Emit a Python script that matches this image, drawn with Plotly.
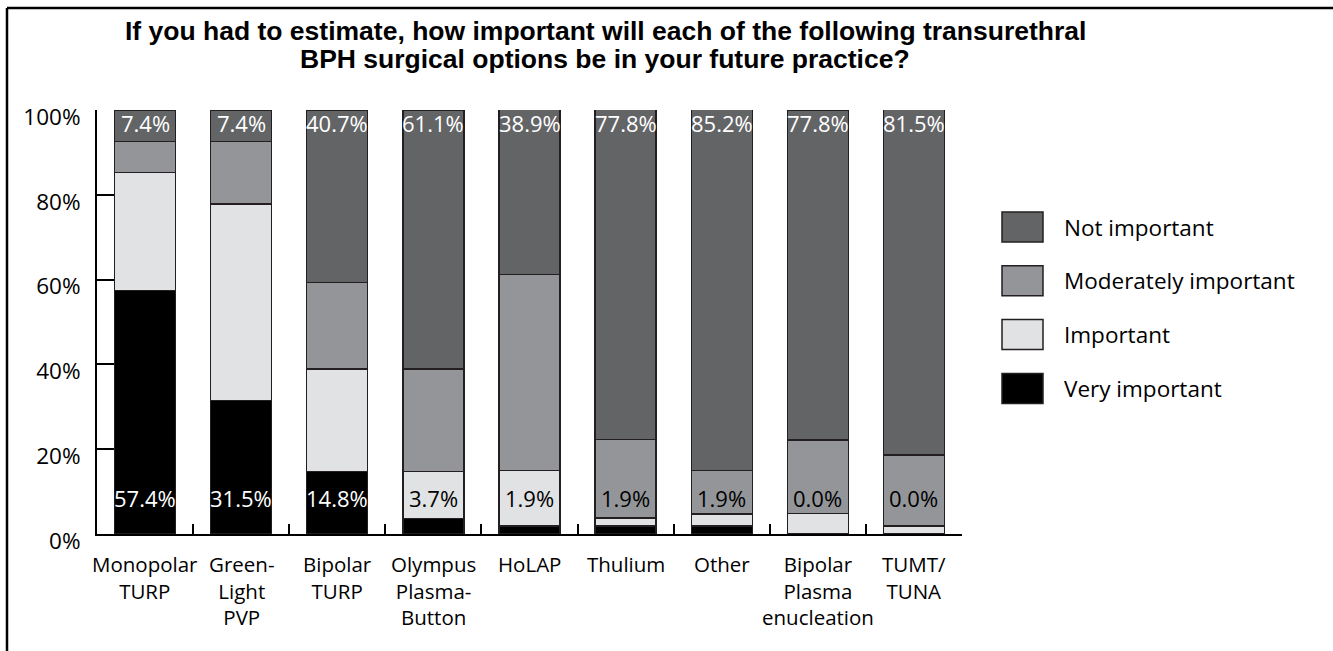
import plotly.graph_objects as go

# Survey answers per transurethral BPH option (percent of respondents)
categories = ["Monopolar TURP", "Green-Light PVP", "Bipolar TURP", "Olympus Plasma-Button",
              "HoLAP", "Thulium", "Other", "Bipolar Plasma enucleation", "TUMT/TUNA"]
tick_lines = [["Monopolar", "TURP"], ["Green-", "Light", "PVP"], ["Bipolar", "TURP"],
              ["Olympus", "Plasma-", "Button"], ["HoLAP"], ["Thulium"], ["Other"],
              ["Bipolar", "Plasma", "enucleation"], ["TUMT/", "TUNA"]]

very_important = [57.4, 31.5, 14.8, 3.7, 1.9, 1.9, 1.9, 0.0, 0.0]
important = [27.8, 46.3, 24.1, 11.1, 13.0, 1.9, 2.8, 4.9, 1.9]
moderately_important = [7.4, 14.8, 20.4, 24.1, 46.3, 18.5, 10.2, 17.3, 16.7]
not_important = [7.4, 7.4, 40.7, 61.1, 38.9, 77.8, 85.2, 77.8, 81.5]

series_names = ["Very important", "Important", "Moderately important", "Not important"]
series_values = [very_important, important, moderately_important, not_important]
series_colors = ["#000000", "#e1e2e4", "#939598", "#636466"]

y_ticks = [0, 20, 40, 60, 80, 100]
y_tick_text = [f"{v}%" for v in y_ticks]

title_lines = ["If you had to estimate, how important will each of the following transurethral",
               "BPH surgical options be in your future practice?"]

BODY_FONT = "Open Sans"
TITLE_FONT = "Liberation Sans"
OUTLINE = "#231f20"

W, H = 1333, 651
L, R, T, B = 97, 371, 110, 117
PW, PH = W - L - R, H - T - B


def px(xp):
    return (xp - L) / PW


def py(yp):
    return (H - B - yp) / PH


fig = go.Figure()
for name, vals, col in zip(series_names, series_values, series_colors):
    fig.add_trace(go.Bar(
        x=categories, y=vals, name=name,
        marker=dict(color=col, line=dict(color=OUTLINE, width=1.3)),
        showlegend=False, hoverinfo="x+y+name",
    ))

annotations = []
# value labels: "Not important" at the top, "Very important" at the bottom
for cat, top_v, bot_v in zip(categories, not_important, very_important):
    annotations.append(dict(x=cat, y=97, xref="x", yref="y", text=f"{top_v:.1f}%",
                            showarrow=False, font=dict(family=BODY_FONT, size=22, color="white")))
    annotations.append(dict(x=cat, y=8.4, xref="x", yref="y", text=f"{bot_v:.1f}%",
                            showarrow=False,
                            font=dict(family=BODY_FONT, size=22,
                                      color="white" if bot_v >= 10 else "black")))

# category labels under each bar
for cat, lines in zip(categories, tick_lines):
    annotations.append(dict(x=cat, y=0, xref="x", yref="paper", text="<br>".join(lines),
                            showarrow=False, yanchor="top", yshift=-14,
                            font=dict(family=BODY_FONT, size=20.5, color="black")))

# title
for i, line in enumerate(title_lines):
    annotations.append(dict(x=px(605), y=py(31 + 28 * i), xref="paper", yref="paper",
                            text=f"<b>{line}</b>", showarrow=False,
                            xanchor="center", yanchor="middle",
                            font=dict(family=TITLE_FONT, size=26.5, color="black")))

# legend drawn as boxes + labels, top entry first
shapes = []
legend_order = list(zip(series_names, series_colors))[::-1]
for i, (name, col) in enumerate(legend_order):
    cy = 227 + 53.8 * i
    shapes.append(dict(type="rect", xref="paper", yref="paper",
                       x0=px(1002), x1=px(1043), y0=py(cy - 15), y1=py(cy + 15),
                       fillcolor=col, line=dict(color=OUTLINE, width=1.5)))
    annotations.append(dict(x=px(1062), y=py(cy), xref="paper", yref="paper", text=name,
                            showarrow=False, xanchor="left", yanchor="middle",
                            font=dict(family=BODY_FONT, size=22.5, color="black")))

# frame around the figure
shapes.append(dict(type="line", xref="paper", yref="paper", x0=px(7), x1=px(W + 5),
                   y0=py(8), y1=py(8), line=dict(color="black", width=2.5)))
shapes.append(dict(type="line", xref="paper", yref="paper", x0=px(7), x1=px(7),
                   y0=py(8), y1=py(H + 5), line=dict(color="black", width=2.5)))

fig.update_layout(
    barmode="stack", bargap=0.365,
    width=W, height=H,
    margin=dict(l=L, r=R, t=T, b=B, autoexpand=False),
    paper_bgcolor="white", plot_bgcolor="white",
    font=dict(family=BODY_FONT, size=22, color="black"),
    annotations=annotations, shapes=shapes,
    xaxis=dict(range=[-0.5, 8.5], showline=True, linecolor="black", linewidth=2,
               ticks="inside", tickson="boundaries", ticklen=10, tickwidth=2,
               tickcolor="black", showticklabels=False, showgrid=False, zeroline=False,
               automargin=False),
    yaxis=dict(range=[0, 100], showline=True, linecolor="black", linewidth=2,
               ticks="inside", ticklen=17, tickwidth=2, tickcolor="black",
               tickvals=y_ticks, ticktext=y_tick_text, ticklabelshift=7,
               ticklabelstandoff=10, showgrid=False, zeroline=False, automargin=False,
               tickfont=dict(family=BODY_FONT, size=22.5, color="black")),
)

fig.write_html("out.html")
